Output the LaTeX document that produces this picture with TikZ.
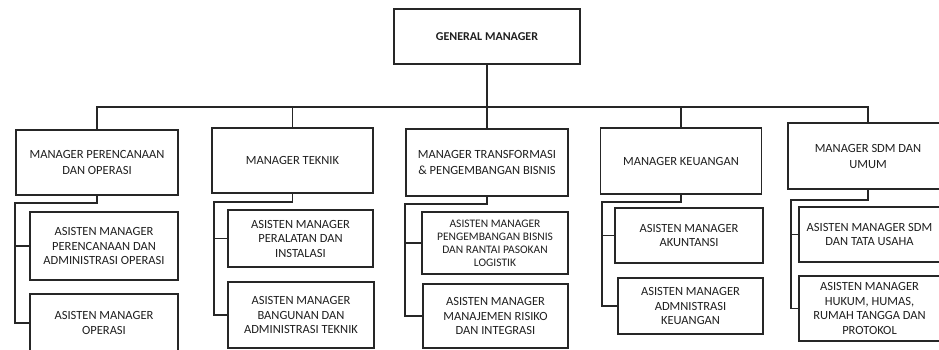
\documentclass[tikz,border=0pt]{standalone}
\usepackage{fontspec}
\setmainfont{Carlito}
\tikzset{box/.style={draw=black!85,line width=1.1pt,align=center,text=black!88,inner sep=1pt,font=\fontsize{12.5}{14.5}\selectfont} }
\tikzset{mgr/.style={box,font=\fontsize{12.5}{16}\selectfont} }
\tikzset{link/.style={draw=black!85,line width=1.1pt} }

\begin{document}
\begin{tikzpicture}[x=1pt,y=-1pt]
    \useasboundingbox (0,0) rectangle (939,350);
    \node[box,line width=1.5pt,minimum width=186pt,minimum height=55pt,font=\bfseries\fontsize{12}{14}\selectfont] (gm) at (487,36.5) {GENERAL MANAGER};
    \node[mgr,minimum width=162pt,minimum height=65pt] (m1) at (97,162.5) {MANAGER PERENCANAAN\\DAN OPERASI};
    \node[mgr,minimum width=161pt,minimum height=65pt] (m2) at (292.5,160.5) {MANAGER TEKNIK};
    \node[mgr,minimum width=162pt,minimum height=67pt] (m3) at (487,162.5) {MANAGER TRANSFORMASI\\\& PENGEMBANGAN BISNIS};
    \node[mgr,minimum width=161pt,minimum height=66pt] (m4) at (681,161) {MANAGER KEUANGAN};
    \node[mgr,minimum width=160pt,minimum height=66pt] (m5) at (868,156) {MANAGER SDM DAN\\UMUM};
    \node[box,minimum width=148pt,minimum height=68pt] (a11) at (104,246) {ASISTEN MANAGER\\PERENCANAAN DAN\\ADMINISTRASI OPERASI};
    \node[box,minimum width=148pt,minimum height=58pt] (a12) at (104,323) {ASISTEN MANAGER\\OPERASI};
    \node[box,minimum width=145pt,minimum height=57pt] (a21) at (300.5,238.5) {ASISTEN MANAGER\\PERALATAN DAN\\INSTALASI};
    \node[box,minimum width=146pt,minimum height=66pt] (a22) at (301,315) {ASISTEN MANAGER\\BANGUNAN DAN\\ADMINISTRASI TEKNIK};
    \node[box,minimum width=146pt,minimum height=62pt,font=\fontsize{11.5}{13}\selectfont] (a31) at (495,243) {ASISTEN MANAGER\\PENGEMBANGAN BISNIS\\DAN RANTAI PASOKAN\\LOGISTIK};
    \node[box,minimum width=145pt,minimum height=64pt] (a32) at (495.5,316) {ASISTEN MANAGER\\MANAJEMEN RISIKO\\DAN INTEGRASI};
    \node[box,minimum width=148pt,minimum height=55pt] (a41) at (689,235.5) {ASISTEN MANAGER\\AKUNTANSI};
    \node[box,minimum width=145pt,minimum height=56pt] (a42) at (690.5,306) {ASISTEN MANAGER\\ADMNISTRASI\\KEUANGAN};
    \node[box,minimum width=141pt,minimum height=55pt] (a51) at (869.5,234.5) {ASISTEN MANAGER SDM\\DAN TATA USAHA};
    \node[box,minimum width=141pt,minimum height=65pt] (a52) at (869.5,308.5) {ASISTEN MANAGER\\HUKUM, HUMAS,\\RUMAH TANGGA DAN\\PROTOKOL};
    \coordinate (bar) at (487,107);
    \draw[link] (gm.south) -- (m3.north);
    \draw[link] (m1.north) |- (bar) -| (m5.north);
    \draw[link] (m2.north) -- (m2.north |- bar);
    \draw[link] (m4.north) -- (m4.north |- bar);
    \coordinate (k1) at (15,203);
    \draw[link] (m1.south) |- (k1) |- (a12.west);
    \draw[link] (k1 |- a11.west) -- (a11.west);
    \coordinate (k2) at (214,202);
    \draw[link] (m2.south) |- (k2) |- (a22.west);
    \draw[link] (k2 |- a21.west) -- (a21.west);
    \coordinate (k3) at (405,204);
    \draw[link] (m3.south) |- (k3) |- (a32.west);
    \draw[link] (k3 |- a31.west) -- (a31.west);
    \coordinate (k4) at (602,202);
    \draw[link] (m4.south) |- (k4) |- (a42.west);
    \draw[link] (k4 |- a41.west) -- (a41.west);
    \coordinate (k5) at (791,200);
    \draw[link] (m5.south) |- (k5) |- (a52.west);
    \draw[link] (k5 |- a51.west) -- (a51.west);
\end{tikzpicture}
\end{document}
